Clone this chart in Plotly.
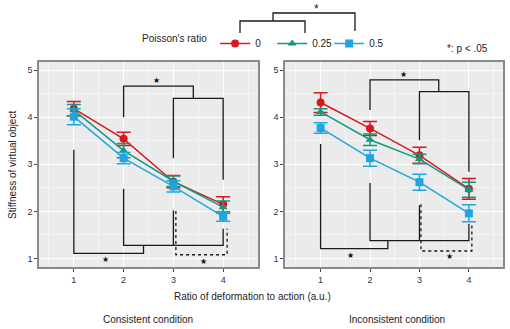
import plotly.graph_objects as go

W, H = 510, 329

ratio = [1, 2, 3, 4]
poisson = ["0", "0.25", "0.5"]
colors = ["#D9171F", "#129A80", "#1FA6E0"]
symbols = ["circle", "triangle-up", "square"]

# Consistent condition: means and error (half-width)
cons_mean = {
    "0":    [4.18, 3.54, 2.63, 2.15],
    "0.25": [4.15, 3.29, 2.64, 2.09],
    "0.5":  [4.01, 3.13, 2.53, 1.89],
}
cons_err = {
    "0":    [0.15, 0.14, 0.13, 0.16],
    "0.25": [0.12, 0.15, 0.11, 0.13],
    "0.5":  [0.17, 0.12, 0.12, 0.10],
}
# Inconsistent condition
incons_mean = {
    "0":    [4.31, 3.76, 3.19, 2.48],
    "0.25": [4.11, 3.52, 3.11, 2.46],
    "0.5":  [3.77, 3.13, 2.62, 1.96],
}
incons_err = {
    "0":    [0.21, 0.15, 0.17, 0.22],
    "0.25": [0.07, 0.12, 0.10, 0.16],
    "0.5":  [0.11, 0.17, 0.17, 0.18],
}

# significance brackets (data units) per panel
cons_brackets_solid = [
    [(2, 4.0), (2, 4.66), (3.40, 4.66), (3.40, 4.40)],
    [(3, 3.13), (3, 4.40), (4, 4.40), (4, 2.67)],
    [(1, 3.31), (1, 1.11), (2.40, 1.11), (2.40, 1.28)],
    [(2, 2.48), (2, 1.28), (4, 1.28), (4, 1.63)],
    [(3, 2.02), (3, 1.28)],
]
cons_brackets_dot = [[(3.05, 2.01), (3.05, 1.08), (4.08, 1.08), (4.08, 1.63)]]
cons_stars = [(2.67, 4.77), (1.63, 0.98), (3.61, 0.94)]

incons_brackets_solid = [
    [(2, 4.15), (2, 4.79), (3.39, 4.79), (3.39, 4.54)],
    [(3, 3.51), (3, 4.54), (4, 4.54), (4, 2.84)],
    [(1, 3.43), (1, 1.21), (2.36, 1.21), (2.36, 1.38)],
    [(2, 2.60), (2, 1.38), (4, 1.38), (4, 1.74)],
    [(3, 2.13), (3, 1.38)],
]
incons_brackets_dot = [[(3.03, 2.15), (3.03, 1.16), (4.06, 1.16), (4.06, 1.74)]]
incons_stars = [(2.68, 4.91), (1.61, 1.06), (3.61, 1.04)]

FONT = "Liberation Sans, Arial, sans-serif"

fig = go.Figure()

def add_brackets(solid, dotted, xa, ya):
    for seg in solid:
        fig.add_trace(go.Scatter(x=[p[0] for p in seg], y=[p[1] for p in seg], mode="lines",
                                 line=dict(color="#1a1a1a", width=1.3), showlegend=False,
                                 hoverinfo="skip", xaxis=xa, yaxis=ya))
    for seg in dotted:
        fig.add_trace(go.Scatter(x=[p[0] for p in seg], y=[p[1] for p in seg], mode="lines",
                                 line=dict(color="#1a1a1a", width=1.3, dash="dot"), showlegend=False,
                                 hoverinfo="skip", xaxis=xa, yaxis=ya))

add_brackets(cons_brackets_solid, cons_brackets_dot, "x", "y")
add_brackets(incons_brackets_solid, incons_brackets_dot, "x2", "y2")

for i, p in enumerate(poisson):
    for (means, errs, xa, ya, show) in [(cons_mean, cons_err, "x", "y", True),
                                         (incons_mean, incons_err, "x2", "y2", False)]:
        fig.add_trace(go.Scatter(
            x=ratio, y=means[p], mode="lines+markers", name=p, showlegend=show,
            legendgroup=p,
            line=dict(color=colors[i], width=1.5),
            marker=dict(color=colors[i], symbol=symbols[i], size=8),
            error_y=dict(type="data", array=errs[p], visible=True, color=colors[i],
                         thickness=1.5, width=7),
            xaxis=xa, yaxis=ya))

annotations = []
for (stars, xa, ya) in [(cons_stars, "x", "y"), (incons_stars, "x2", "y2")]:
    for s in stars:
        annotations.append(dict(x=s[0], y=s[1], xref=xa, yref=ya, text="★", showarrow=False,
                                xanchor="center", yanchor="middle",
                                font=dict(size=8, color="#111", family="DejaVu Sans")))

def px(x, y):
    return x / W, 1 - y / H

# top legend bracket (paper coordinates)
top_segs = [[(240, 33), (240, 21), (305, 21), (305, 33)],
            [(273, 21), (273, 13), (355, 13), (355, 31)]]
shapes = []
for seg in top_segs:
    path = "M " + " L ".join(f"{px(*q)[0]},{px(*q)[1]}" for q in seg)
    shapes.append(dict(type="path", path=path, xref="paper", yref="paper",
                       line=dict(color="#1a1a1a", width=1.3)))

def text_ann(x, y, text, size=10, angle=0, family=FONT):
    ax, ay = px(x, y)
    return dict(x=ax, y=ay, xref="paper", yref="paper", text=text, showarrow=False,
                xanchor="center", yanchor="middle", textangle=angle,
                font=dict(size=size, color="#222", family=family))

annotations.append(text_ann(316, 9, "*", size=12))
annotations.append(text_ann(467, 48, "*: p < .05"))
annotations.append(text_ann(252, 296, "Ratio of deformation to action (a.u.)"))
annotations.append(text_ann(148, 319, "Consistent condition"))
annotations.append(text_ann(397, 319, "Inconsistent condition"))
annotations.append(text_ann(12, 165, "Stiffness of virtual object", angle=-90))

ydom = [(H - 267) / H, (H - 62) / H]
minor = dict(dtick=0.5, showgrid=True, gridcolor="#F5F5F5", gridwidth=0.6)
axis_common = dict(showline=True, mirror=True, linecolor="#8a8a8a", linewidth=1.5,
                   gridcolor="white", gridwidth=1.1, zeroline=False,
                   ticks="outside", ticklen=3, tickcolor="#444",
                   tickfont=dict(size=9, color="#333", family=FONT), minor=minor)

fig.update_layout(
    width=W, height=H, autosize=False,
    margin=dict(l=0, r=0, t=0, b=0),
    paper_bgcolor="white", plot_bgcolor="#EBEBEB",
    xaxis=dict(domain=[39 / W, 258 / W], range=[0.3, 4.7], tickvals=ratio, **axis_common),
    yaxis=dict(domain=ydom, range=[0.82, 5.17], tickvals=[1, 2, 3, 4, 5], **axis_common),
    xaxis2=dict(domain=[285 / W, 503 / W], range=[0.28, 4.69], tickvals=ratio, anchor="y2",
                **axis_common),
    yaxis2=dict(domain=ydom, range=[0.82, 5.17], tickvals=[1, 2, 3, 4, 5], anchor="x2",
                **axis_common),
    legend=dict(orientation="h", x=140 / W, y=1 - 29 / H, xanchor="left", yanchor="top",
                title=dict(text="Poisson's ratio", side="left",
                           font=dict(size=10, color="#222", family=FONT)),
                font=dict(size=10, color="#222", family=FONT),
                itemwidth=30, entrywidth=12, bgcolor="rgba(0,0,0,0)"),
    annotations=annotations,
    shapes=shapes,
    showlegend=True,
)

fig.write_html("out.html", config={"responsive": False})
